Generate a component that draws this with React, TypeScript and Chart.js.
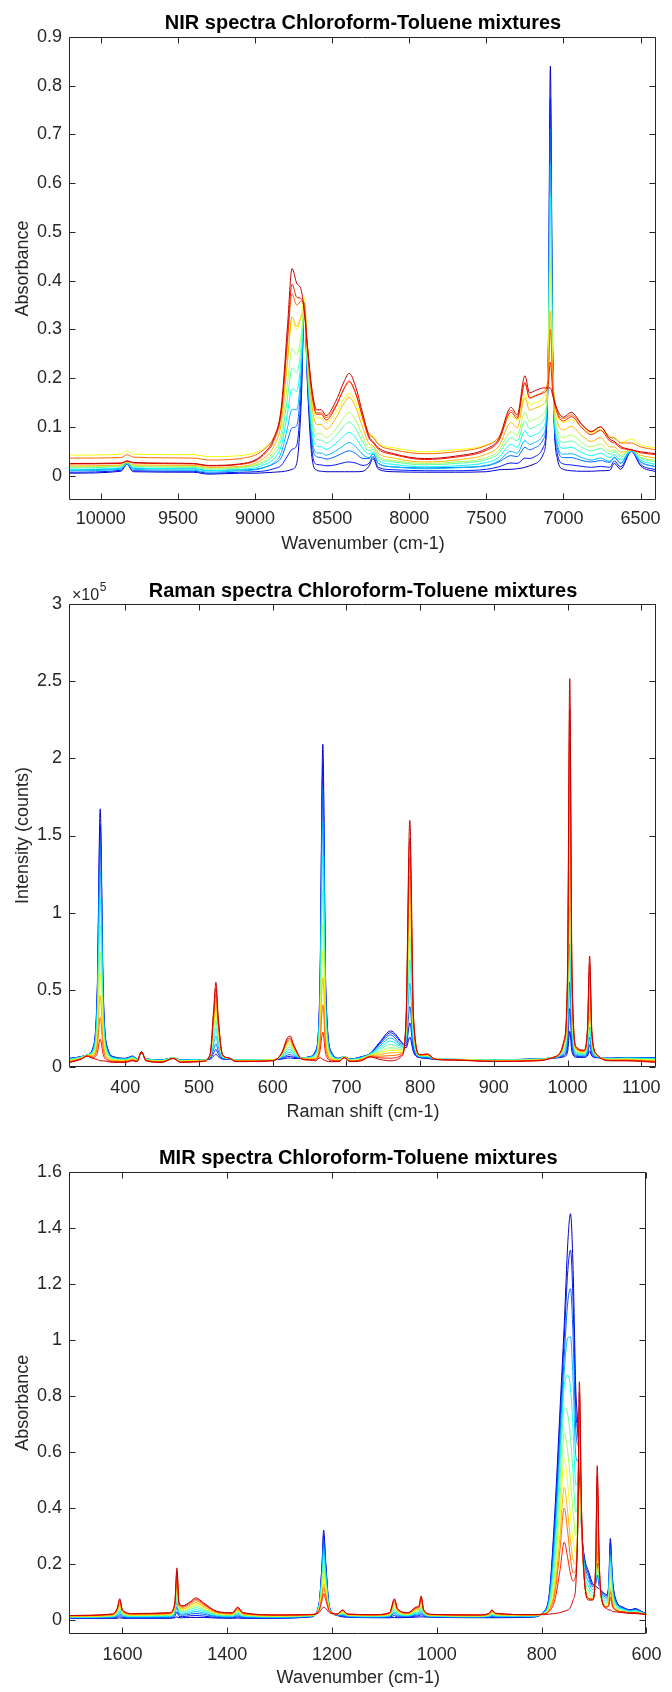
import React, { useEffect, useRef } from "react";
import { Chart, registerables } from "chart.js";

Chart.register(...registerables);

const FONT = '"Liberation Sans", Arial, Helvetica, sans-serif';
const AXIS_COLOR = "#262626";

// jet-like colours, from chloroform-rich (blue) to toluene-rich (red)
const SERIES_COLORS = [
  "rgb(0,0,199)", "rgb(0,24,255)", "rgb(0,103,255)", "rgb(0,183,255)",
  "rgb(8,255,247)", "rgb(88,255,167)", "rgb(167,255,88)", "rgb(247,255,8)",
  "rgb(255,183,0)", "rgb(255,103,0)", "rgb(255,24,0)", "rgb(199,0,0)",
];

// ---------------- NIR ----------------
const NIR_X = [10200, 9870, 9830, 9790, 9400, 9300, 9100, 9000, 8930, 8880, 8830, 8790, 8760, 8730, 8700, 8680, 8660, 8630, 8600, 8570, 8540, 8480, 8420, 8390, 8350, 8300, 8260, 8235, 8200, 8100, 7900, 7700, 7500, 7420, 7340, 7300, 7250, 7220, 7180, 7130, 7100, 7085, 7070, 7040, 7000, 6950, 6880, 6820, 6760, 6700, 6670, 6630, 6560, 6500, 6400];
const NIR_S0 = [.005,.009,.023,.008,.007,.003,.005,.005,.006,.007,.008,.010,.013,.025,.155,.355,.185,.035,.011,.009,.008,.008,.008,.008,.008,.009,.020,.035,.013,.008,.007,.007,.008,.012,.013,.014,.017,.020,.025,.045,.205,.840,.255,.035,.013,.010,.009,.009,.010,.011,.025,.013,.050,.020,.008];
const NIR_S1 = [.007,.011,.024,.010,.009,.005,.007,.008,.010,.014,.021,.040,.054,.062,.178,.353,.193,.049,.023,.022,.020,.022,.027,.028,.026,.021,.026,.039,.017,.012,.010,.010,.013,.018,.026,.025,.036,.035,.040,.059,.203,.774,.246,.045,.024,.022,.019,.017,.019,.017,.030,.018,.050,.023,.012];
const NIR_S2 = [.012,.015,.027,.015,.014,.010,.012,.013,.018,.024,.037,.072,.098,.102,.203,.354,.204,.066,.039,.037,.034,.039,.048,.051,.046,.035,.035,.045,.025,.018,.016,.017,.020,.028,.041,.039,.058,.053,.058,.075,.203,.711,.240,.058,.037,.037,.031,.028,.031,.027,.037,.025,.054,.029,.018];
const NIR_S3 = [.010,.013,.024,.013,.011,.007,.010,.012,.018,.026,.047,.098,.136,.135,.222,.348,.208,.076,.047,.046,.042,.050,.063,.068,.060,.043,.037,.045,.025,.018,.014,.016,.021,.030,.050,.046,.072,.064,.069,.085,.197,.641,.227,.064,.044,.045,.037,.032,.036,.029,.038,.026,.050,.028,.018];
const NIR_S4 = [.013,.016,.026,.016,.014,.010,.013,.016,.024,.034,.061,.128,.178,.173,.245,.347,.217,.091,.061,.059,.054,.065,.083,.089,.079,.055,.044,.049,.031,.023,.018,.020,.027,.037,.064,.058,.092,.080,.085,.099,.195,.576,.219,.075,.056,.058,.047,.041,.046,.037,.043,.032,.051,.032,.023];
const NIR_S5 = [.016,.019,.028,.019,.017,.013,.016,.020,.029,.042,.075,.159,.220,.211,.269,.346,.226,.106,.074,.073,.067,.080,.103,.110,.098,.068,.051,.054,.036,.028,.022,.025,.033,.045,.078,.071,.112,.096,.101,.114,.194,.511,.211,.086,.068,.071,.058,.051,.056,.044,.049,.038,.053,.036,.028];
const NIR_S6 = [.018,.020,.028,.020,.019,.015,.017,.022,.033,.049,.088,.188,.261,.248,.291,.344,.234,.120,.086,.086,.078,.094,.121,.130,.115,.080,.057,.057,.040,.031,.025,.028,.037,.051,.090,.082,.131,.111,.116,.127,.191,.445,.202,.096,.078,.083,.068,.059,.065,.050,.053,.042,.053,.038,.031];
const NIR_S7 = [.042,.044,.051,.044,.043,.039,.041,.047,.059,.077,.121,.234,.317,.300,.331,.365,.263,.154,.119,.118,.110,.128,.159,.169,.152,.111,.084,.082,.066,.057,.049,.053,.063,.078,.123,.113,.168,.145,.150,.160,.211,.415,.217,.126,.109,.115,.098,.088,.095,.078,.079,.068,.075,.063,.057];
const NIR_S8 = [.020,.022,.028,.022,.021,.017,.019,.025,.039,.059,.108,.234,.326,.306,.326,.340,.246,.141,.105,.105,.095,.116,.150,.161,.142,.097,.065,.061,.046,.036,.028,.032,.044,.060,.109,.098,.160,.134,.139,.147,.186,.338,.186,.111,.094,.101,.082,.070,.078,.059,.059,.048,.052,.042,.036];
const NIR_S9 = [.036,.037,.043,.038,.036,.032,.035,.042,.057,.078,.133,.272,.373,.350,.358,.352,.266,.167,.129,.129,.119,.142,.179,.192,.171,.121,.085,.079,.064,.053,.045,.049,.062,.079,.134,.121,.189,.160,.165,.173,.198,.300,.194,.133,.117,.125,.104,.091,.100,.079,.077,.067,.067,.059,.053];
const NIR_S10 = [.024,.025,.030,.026,.024,.020,.023,.030,.047,.070,.130,.282,.393,.366,.363,.337,.259,.164,.126,.126,.114,.139,.181,.194,.171,.116,.076,.068,.054,.043,.033,.038,.052,.071,.130,.117,.191,.159,.164,.170,.183,.233,.173,.128,.112,.121,.098,.084,.093,.071,.067,.057,.053,.047,.043];
const NIR_S11 = [.025,.026,.030,.027,.025,.021,.024,.032,.050,.075,.140,.305,.425,.395,.380,.335,.265,.175,.135,.135,.123,.150,.195,.210,.185,.125,.080,.070,.057,.045,.035,.040,.055,.075,.140,.125,.205,.170,.175,.180,.180,.180,.165,.135,.120,.130,.105,.090,.100,.075,.070,.060,.053,.049,.045];
const NIR_X_TICKS = [10000, 9500, 9000, 8500, 8000, 7500, 7000, 6500];
const NIR_X_LABELS = ["10000", "9500", "9000", "8500", "8000", "7500", "7000", "6500"];
const NIR_Y_TICKS = [0, 0.1, 0.2, 0.3, 0.4, 0.5, 0.6, 0.7, 0.8, 0.9];
const NIR_Y_LABELS = ["0", "0.1", "0.2", "0.3", "0.4", "0.5", "0.6", "0.7", "0.8", "0.9"];

// ---------------- Raman (values in units of 1e5 counts) ----------------
const RAMAN_X = [325,340,348,356,362,366,370,376,385,400,410,416,422,428,450,465,475,505,515,520,523,526,532,540,550,600,612,620,624,628,640,650,658,664,668,672,680,690,697,705,720,732,745,760,775,781,786,791,800,810,820,845,900,960,985,995,1000,1003,1006,1012,1022,1027,1030,1033,1040,1060,1080,1120];
const RAMAN_S0 = [.054,.065,.076,.121,.511,1.673,.511,.120,.064,.054,.069,.050,.087,.050,.045,.056,.045,.045,.049,.070,.081,.066,.049,.047,.045,.046,.049,.056,.057,.053,.056,.065,.101,.512,2.092,.511,.092,.055,.066,.050,.064,.085,.158,.232,.159,.122,.192,.094,.058,.054,.046,.046,.045,.050,.057,.064,.096,.229,.096,.061,.060,.070,.103,.068,.058,.055,.060,.059];
const RAMAN_S1 = [.054,.065,.076,.118,.483,1.569,.481,.115,.062,.054,.068,.050,.089,.051,.045,.057,.045,.046,.052,.091,.113,.084,.052,.049,.046,.046,.053,.066,.067,.061,.056,.064,.099,.484,1.962,.481,.089,.054,.066,.050,.064,.084,.152,.220,.155,.136,.284,.110,.060,.057,.048,.047,.046,.051,.059,.072,.132,.377,.132,.067,.064,.082,.143,.080,.060,.055,.059,.058];
const RAMAN_S2 = [.052,.064,.076,.113,.448,1.446,.446,.109,.060,.052,.066,.049,.090,.050,.044,.057,.044,.045,.054,.114,.148,.104,.054,.050,.045,.046,.056,.076,.078,.068,.056,.063,.094,.450,1.808,.446,.085,.053,.066,.049,.062,.083,.144,.206,.148,.152,.390,.128,.062,.059,.048,.047,.045,.050,.060,.080,.172,.550,.172,.072,.068,.096,.190,.092,.062,.054,.058,.056];
const RAMAN_S3 = [.050,.063,.076,.107,.399,1.271,.396,.101,.057,.050,.064,.048,.092,.050,.043,.058,.043,.045,.058,.148,.199,.133,.058,.052,.045,.046,.061,.091,.094,.079,.056,.062,.088,.402,1.589,.396,.080,.052,.066,.048,.060,.082,.133,.186,.139,.175,.542,.154,.065,.063,.049,.048,.045,.050,.062,.092,.230,.797,.230,.080,.074,.116,.257,.110,.065,.053,.057,.054];
const RAMAN_S4 = [.048,.062,.076,.100,.350,1.096,.346,.092,.054,.048,.061,.047,.094,.049,.042,.058,.042,.044,.062,.182,.250,.162,.062,.054,.044,.046,.066,.106,.110,.090,.056,.060,.082,.354,1.370,.346,.074,.050,.066,.047,.058,.080,.122,.166,.130,.198,.694,.180,.068,.067,.050,.048,.044,.049,.064,.104,.288,1.044,.288,.088,.080,.136,.324,.128,.068,.052,.055,.051];
const RAMAN_S5 = [.045,.060,.075,.093,.300,.920,.295,.083,.050,.045,.058,.045,.095,.048,.040,.058,.040,.043,.065,.215,.300,.190,.065,.055,.043,.045,.070,.120,.125,.100,.055,.058,.075,.305,1.150,.295,.068,.048,.065,.045,.055,.078,.110,.145,.120,.220,.845,.205,.070,.070,.050,.048,.043,.048,.065,.115,.345,1.290,.345,.095,.085,.155,.390,.145,.070,.050,.053,.048];
const RAMAN_S6 = [.042,.058,.074,.085,.250,.744,.244,.073,.046,.042,.054,.043,.096,.046,.038,.057,.038,.041,.068,.248,.350,.218,.068,.056,.041,.044,.074,.134,.140,.110,.054,.055,.068,.256,.930,.244,.061,.045,.064,.043,.052,.075,.098,.124,.110,.242,.996,.230,.072,.073,.050,.047,.041,.046,.066,.126,.402,1.536,.402,.102,.090,.174,.456,.162,.072,.048,.050,.044];
const RAMAN_S7 = [.039,.056,.073,.079,.210,.603,.203,.065,.042,.039,.051,.041,.096,.044,.036,.056,.036,.039,.070,.274,.390,.240,.070,.056,.039,.043,.077,.145,.152,.118,.053,.053,.062,.216,.754,.203,.055,.043,.063,.041,.049,.073,.088,.107,.102,.259,1.116,.250,.073,.075,.050,.046,.039,.044,.066,.134,.447,1.732,.447,.107,.094,.189,.508,.175,.073,.046,.048,.041];
const RAMAN_S8 = [.036,.054,.072,.072,.169,.462,.162,.057,.039,.036,.048,.039,.097,.043,.034,.055,.034,.038,.072,.300,.429,.262,.072,.057,.038,.042,.080,.156,.163,.125,.052,.050,.056,.177,.577,.162,.050,.040,.062,.039,.046,.070,.078,.090,.093,.276,1.237,.269,.074,.077,.049,.045,.038,.043,.067,.143,.492,1.929,.492,.112,.097,.204,.561,.188,.074,.044,.045,.038];
const RAMAN_S9 = [.034,.052,.070,.066,.129,.320,.120,.049,.035,.034,.044,.037,.097,.041,.032,.055,.032,.036,.074,.326,.469,.284,.074,.057,.036,.040,.082,.166,.175,.133,.050,.048,.050,.137,.401,.120,.044,.038,.060,.037,.044,.068,.068,.072,.085,.294,1.357,.289,.076,.079,.049,.045,.036,.041,.067,.151,.538,2.125,.538,.118,.101,.218,.613,.202,.076,.042,.043,.034];
const RAMAN_S10 = [.031,.050,.069,.059,.088,.179,.079,.041,.032,.031,.041,.035,.098,.040,.030,.054,.030,.035,.076,.352,.508,.306,.076,.058,.035,.039,.085,.177,.186,.140,.049,.045,.044,.098,.224,.079,.039,.035,.059,.035,.041,.065,.058,.055,.076,.311,1.478,.308,.077,.081,.048,.044,.035,.040,.068,.160,.583,2.322,.583,.123,.104,.233,.666,.215,.077,.040,.040,.031];
const RAMAN_S11 = [.028,.048,.068,.053,.048,.038,.038,.033,.028,.028,.038,.033,.098,.038,.028,.053,.028,.033,.078,.378,.548,.328,.078,.058,.033,.038,.088,.188,.198,.148,.048,.043,.038,.058,.048,.038,.033,.033,.058,.033,.038,.063,.048,.038,.068,.328,1.598,.328,.078,.083,.048,.043,.033,.038,.068,.168,.628,2.518,.628,.128,.108,.248,.718,.228,.078,.038,.038,.028];
const RAMAN_X_TICKS = [400, 500, 600, 700, 800, 900, 1000, 1100];
const RAMAN_X_LABELS = ["400", "500", "600", "700", "800", "900", "1000", "1100"];
const RAMAN_Y_TICKS = [0, 0.5, 1, 1.5, 2, 2.5, 3];
const RAMAN_Y_LABELS = ["0", "0.5", "1", "1.5", "2", "2.5", "3"];

// ---------------- MIR ----------------
const MIR_X = [1700,1620,1610,1605,1600,1580,1510,1500,1496,1492,1485,1470,1460,1445,1420,1390,1380,1370,1300,1240,1225,1219,1216,1212,1205,1190,1180,1170,1120,1090,1081,1075,1055,1040,1034,1030,1025,1010,920,900,895,888,820,795,785,775,765,757,750,745,740,735,731,728,724,718,710,703,697,694,690,684,676,672,669,665,658,645,630,622,610,600];
const MIR_S0 = [.005,.005,.005,.007,.005,.005,.005,.007,.010,.007,.007,.008,.008,.008,.006,.005,.006,.005,.005,.010,.055,.205,.320,.205,.045,.015,.010,.009,.007,.007,.008,.007,.008,.009,.010,.010,.010,.009,.007,.007,.007,.007,.009,.030,.100,.380,.750,1.050,1.350,1.450,1.250,.830,.700,.550,.330,.220,.170,.130,.120,.115,.110,.100,.090,.130,.290,.150,.070,.045,.035,.040,.030,.020];
const MIR_S1 = [.006,.007,.009,.014,.008,.007,.007,.012,.028,.012,.011,.014,.015,.013,.008,.007,.010,.007,.006,.011,.054,.195,.302,.195,.044,.016,.013,.010,.008,.009,.015,.010,.010,.013,.014,.018,.013,.010,.008,.009,.010,.009,.010,.030,.094,.352,.709,1.003,1.250,1.320,1.132,.760,.664,.580,.338,.212,.160,.124,.129,.159,.119,.096,.086,.123,.273,.141,.067,.043,.035,.038,.030,.020];
const MIR_S2 = [.007,.008,.012,.021,.011,.008,.009,.018,.045,.018,.016,.020,.022,.019,.011,.009,.014,.009,.007,.012,.052,.182,.281,.182,.043,.017,.015,.011,.009,.011,.022,.014,.012,.016,.018,.025,.015,.011,.009,.010,.013,.010,.011,.028,.087,.321,.660,.941,1.138,1.182,1.009,.685,.624,.606,.344,.202,.149,.118,.136,.202,.128,.092,.081,.115,.254,.131,.063,.042,.033,.037,.028,.020];
const MIR_S3 = [.008,.010,.016,.028,.014,.010,.011,.023,.063,.023,.020,.025,.029,.024,.013,.011,.018,.011,.009,.013,.049,.168,.256,.168,.041,.017,.018,.013,.010,.013,.028,.017,.013,.020,.022,.033,.018,.012,.010,.012,.016,.012,.012,.027,.078,.284,.608,.884,1.007,1.010,.850,.587,.565,.617,.341,.187,.134,.108,.140,.242,.133,.085,.074,.105,.231,.119,.058,.039,.031,.034,.027,.020];
const MIR_S4 = [.009,.011,.019,.034,.017,.012,.013,.028,.080,.028,.024,.031,.036,.029,.016,.013,.022,.013,.010,.014,.047,.153,.232,.153,.040,.018,.020,.014,.012,.014,.035,.020,.015,.024,.026,.040,.020,.013,.011,.014,.018,.014,.013,.026,.069,.246,.560,.834,.873,.826,.679,.481,.497,.622,.335,.170,.117,.097,.144,.281,.138,.078,.067,.095,.209,.106,.052,.037,.030,.032,.026,.019];
const MIR_S5 = [.010,.013,.023,.041,.020,.014,.015,.034,.098,.034,.029,.037,.043,.034,.018,.015,.026,.015,.011,.014,.044,.137,.205,.137,.038,.018,.023,.015,.013,.016,.042,.024,.017,.027,.030,.048,.023,.014,.012,.015,.021,.015,.014,.024,.060,.206,.498,.757,.731,.651,.521,.383,.438,.634,.332,.154,.102,.087,.148,.320,.144,.071,.060,.084,.184,.093,.046,.034,.028,.030,.024,.019];
const MIR_S6 = [.011,.014,.026,.048,.023,.015,.017,.039,.115,.039,.033,.042,.050,.039,.021,.017,.030,.017,.012,.015,.041,.120,.177,.120,.036,.019,.025,.016,.014,.018,.048,.027,.018,.031,.034,.055,.025,.015,.013,.017,.024,.017,.015,.023,.051,.169,.430,.666,.596,.496,.386,.301,.394,.657,.335,.143,.090,.080,.155,.362,.152,.066,.054,.074,.159,.081,.042,.031,.026,.028,.023,.018];
const MIR_S7 = [.012,.015,.029,.054,.026,.017,.019,.043,.130,.043,.037,.047,.056,.044,.023,.019,.033,.019,.013,.016,.038,.105,.152,.105,.034,.019,.028,.017,.015,.020,.054,.030,.020,.034,.038,.061,.027,.016,.014,.018,.026,.018,.016,.022,.044,.137,.364,.573,.477,.370,.281,.237,.360,.676,.338,.134,.080,.074,.160,.396,.158,.062,.049,.065,.135,.070,.038,.029,.025,.026,.022,.018];
const MIR_S8 = [.012,.016,.031,.058,.027,.017,.020,.047,.143,.047,.039,.051,.061,.047,.024,.020,.035,.020,.014,.016,.035,.091,.129,.091,.032,.019,.029,.017,.015,.020,.058,.032,.021,.036,.040,.067,.029,.016,.014,.019,.028,.019,.016,.021,.038,.110,.299,.473,.378,.281,.213,.198,.347,.712,.350,.130,.075,.071,.168,.433,.167,.060,.046,.058,.114,.060,.035,.028,.024,.024,.021,.018];
const MIR_S9 = [.014,.018,.035,.065,.031,.020,.022,.052,.158,.052,.044,.057,.068,.053,.027,.022,.039,.022,.016,.018,.034,.083,.115,.083,.032,.021,.032,.019,.017,.023,.065,.036,.023,.040,.045,.074,.032,.018,.016,.021,.031,.021,.018,.021,.035,.092,.250,.399,.307,.219,.168,.174,.348,.759,.369,.132,.075,.072,.180,.473,.179,.061,.046,.055,.100,.055,.035,.028,.025,.025,.022,.019];
const MIR_S10 = [.015,.020,.038,.071,.033,.021,.024,.057,.172,.057,.048,.062,.074,.057,.029,.024,.043,.024,.017,.019,.032,.070,.093,.070,.031,.021,.034,.020,.018,.025,.071,.038,.025,.043,.048,.080,.034,.019,.017,.023,.034,.023,.018,.021,.031,.069,.176,.277,.217,.163,.138,.160,.358,.812,.390,.135,.075,.074,.192,.514,.192,.063,.045,.049,.080,.048,.033,.028,.025,.025,.022,.019];
const MIR_S11 = [.015,.020,.040,.075,.035,.022,.025,.060,.185,.060,.050,.065,.078,.060,.030,.025,.045,.025,.017,.018,.025,.040,.045,.040,.025,.020,.035,.020,.018,.025,.075,.040,.025,.045,.050,.085,.035,.019,.017,.023,.035,.023,.018,.018,.020,.022,.025,.030,.035,.045,.070,.120,.350,.850,.400,.130,.070,.070,.200,.550,.200,.060,.040,.035,.035,.030,.028,.025,.022,.022,.020,.018];
const MIR_X_TICKS = [1600, 1400, 1200, 1000, 800, 600];
const MIR_X_LABELS = ["1600", "1400", "1200", "1000", "800", "600"];
const MIR_Y_TICKS = [0, 0.2, 0.4, 0.6, 0.8, 1, 1.2, 1.4, 1.6];
const MIR_Y_LABELS = ["0", "0.2", "0.4", "0.6", "0.8", "1", "1.2", "1.4", "1.6"];

type PanelSpec = {
  key: string;
  title: string;
  xTitle: string;
  yTitle: string;
  x: number[];
  series: number[][];
  xTicks: number[];
  xLabels: string[];
  yTicks: number[];
  yLabels: string[];
  xMin: number;
  xMax: number;
  yMin: number;
  yMax: number;
  reverse: boolean;
  top: number;
  height: number;
  titlePadTop: number;
  titlePadBottom: number;
  xAxisHeight: number;
  xTickPad: number;
  xTitlePadBottom: number;
  exponent?: string;
};

const PANELS: PanelSpec[] = [
  {
    key: "nir", title: "NIR spectra Chloroform-Toluene mixtures", xTitle: "Wavenumber (cm-1)", yTitle: "Absorbance",
    x: NIR_X, series: [NIR_S0, NIR_S1, NIR_S2, NIR_S3, NIR_S4, NIR_S5, NIR_S6, NIR_S7, NIR_S8, NIR_S9, NIR_S10, NIR_S11],
    xTicks: NIR_X_TICKS, xLabels: NIR_X_LABELS, yTicks: NIR_Y_TICKS, yLabels: NIR_Y_LABELS,
    xMin: 6400, xMax: 10200, yMin: -0.05, yMax: 0.9, reverse: true,
    top: 0, height: 560, titlePadTop: 11, titlePadBottom: 2, xAxisHeight: 60, xTickPad: 8.5, xTitlePadBottom: 5.2,
  },
  {
    key: "raman", title: "Raman spectra Chloroform-Toluene mixtures", xTitle: "Raman shift (cm-1)", yTitle: "Intensity (counts)",
    x: RAMAN_X, series: [RAMAN_S0, RAMAN_S1, RAMAN_S2, RAMAN_S3, RAMAN_S4, RAMAN_S5, RAMAN_S6, RAMAN_S7, RAMAN_S8, RAMAN_S9, RAMAN_S10, RAMAN_S11],
    xTicks: RAMAN_X_TICKS, xLabels: RAMAN_X_LABELS, yTicks: RAMAN_Y_TICKS, yLabels: RAMAN_Y_LABELS,
    xMin: 325, xMax: 1120, yMin: 0, yMax: 3, reverse: false,
    top: 560, height: 570, titlePadTop: 19, titlePadBottom: 1.3, xAxisHeight: 63.3, xTickPad: 10.5, xTitlePadBottom: 7.2,
    exponent: "5",
  },
  {
    key: "mir", title: "MIR spectra Chloroform-Toluene mixtures", xTitle: "Wavenumber (cm-1)", yTitle: "Absorbance",
    x: MIR_X, series: [MIR_S0, MIR_S1, MIR_S2, MIR_S3, MIR_S4, MIR_S5, MIR_S6, MIR_S7, MIR_S8, MIR_S9, MIR_S10, MIR_S11],
    xTicks: MIR_X_TICKS, xLabels: MIR_X_LABELS, yTicks: MIR_Y_TICKS, yLabels: MIR_Y_LABELS,
    xMin: 600, xMax: 1700, yMin: -0.05, yMax: 1.6, reverse: true,
    top: 1130, height: 562, titlePadTop: 16.7, titlePadBottom: 1, xAxisHeight: 58.3, xTickPad: 10.5, xTitlePadBottom: 3.2,
  },
];

const boxPlugin = {
  id: "matlabBox",
  afterDatasetsDraw(chart: any, _args: any, opts: any) {
    const { ctx, chartArea: a, scales } = chart;
    const L = Math.round(a.left) - 0.5;
    const R = Math.round(a.right) - 0.5;
    const T = Math.round(a.top) + 0.5;
    const B = Math.round(a.bottom) - 0.5;
    ctx.save();
    ctx.strokeStyle = AXIS_COLOR;
    ctx.lineWidth = 1;
    ctx.beginPath();
    ctx.rect(L, T, R - L, B - T);
    for (const v of opts.xTicks || []) {
      const px = Math.round(scales.x.getPixelForValue(v)) + 0.5;
      ctx.moveTo(px, B); ctx.lineTo(px, B - 6);
      ctx.moveTo(px, T); ctx.lineTo(px, T + 6);
    }
    for (const v of opts.yTicks || []) {
      const py = Math.round(scales.y.getPixelForValue(v)) + 0.5;
      ctx.moveTo(L, py); ctx.lineTo(L + 6, py);
      ctx.moveTo(R, py); ctx.lineTo(R - 6, py);
    }
    ctx.stroke();
    if (opts.exponent) {
      ctx.fillStyle = AXIS_COLOR;
      ctx.textBaseline = "alphabetic";
      ctx.textAlign = "left";
      ctx.font = `16px ${FONT}`;
      const base = "\u00d710";
      ctx.fillText(base, a.left + 2, a.top - 4);
      const w = ctx.measureText(base).width;
      ctx.font = `12px ${FONT}`;
      ctx.fillText(opts.exponent, a.left + 2 + w + 0.5, a.top - 13);
    }
    ctx.restore();
  },
};

function buildConfig(p: PanelSpec): any {
  const n = p.series.length;
  const datasets = p.series.map((ys, i) => ({
    label: `${p.key}-${i + 1}`,
    data: p.x.map((x, k) => ({ x, y: ys[k] })),
    borderColor: SERIES_COLORS[i],
    backgroundColor: SERIES_COLORS[i],
    borderWidth: 1,
    pointRadius: 0,
    fill: false,
    cubicInterpolationMode: "monotone",
    order: n - 1 - i,
  }));
  const tickFont = { family: FONT, size: 18 };
  return {
    type: "line",
    data: { datasets },
    options: {
      animation: false,
      responsive: false,
      devicePixelRatio: 1,
      layout: { padding: { left: 0, right: 16, top: 0, bottom: 0 } },
      plugins: {
        legend: { display: false },
        tooltip: { enabled: false },
        title: {
          display: true,
          text: p.title,
          fullSize: false,
          color: "#000000",
          font: { family: FONT, size: 20, weight: "bold" },
          padding: { top: p.titlePadTop, bottom: p.titlePadBottom },
        },
        matlabBox: { xTicks: p.xTicks, yTicks: p.yTicks, exponent: p.exponent },
      },
      scales: {
        x: {
          type: "linear",
          min: p.xMin,
          max: p.xMax,
          reverse: p.reverse,
          afterBuildTicks: (s: any) => { s.ticks = p.xTicks.map((v) => ({ value: v })); },
          afterFit: (s: any) => { s.height = p.xAxisHeight; },
          grid: { display: false, drawTicks: false },
          border: { display: false },
          ticks: {
            autoSkip: false,
            maxRotation: 0,
            minRotation: 0,
            padding: p.xTickPad,
            color: AXIS_COLOR,
            font: tickFont,
            callback: (v: number) => { const i = p.xTicks.indexOf(v); return i >= 0 ? p.xLabels[i] : ""; },
          },
          title: {
            display: true,
            text: p.xTitle,
            color: AXIS_COLOR,
            font: tickFont,
            padding: { top: 0, bottom: p.xTitlePadBottom },
          },
        },
        y: {
          type: "linear",
          min: p.yMin,
          max: p.yMax,
          afterBuildTicks: (s: any) => { s.ticks = p.yTicks.map((v) => ({ value: v })); },
          afterFit: (s: any) => { s.width = 70; },
          grid: { display: false, drawTicks: false },
          border: { display: false },
          ticks: {
            autoSkip: false,
            padding: 8,
            color: AXIS_COLOR,
            font: tickFont,
            callback: (v: number) => { const i = p.yTicks.indexOf(v); return i >= 0 ? p.yLabels[i] : ""; },
          },
          title: {
            display: true,
            text: p.yTitle,
            color: AXIS_COLOR,
            font: tickFont,
            padding: { top: 12, bottom: 0 },
          },
        },
      },
    },
    plugins: [boxPlugin],
  };
}

function Panel({ spec }: { spec: PanelSpec }) {
  const ref = useRef<HTMLCanvasElement>(null);
  useEffect(() => {
    if (!ref.current) return;
    const chart = new Chart(ref.current, buildConfig(spec));
    return () => chart.destroy();
  }, [spec]);
  return (
    <canvas
      ref={ref}
      width={672}
      height={spec.height}
      style={{ position: "absolute", left: 0, top: spec.top, width: 672, height: spec.height }}
    />
  );
}

export default function App() {
  return (
    <div style={{ position: "absolute", left: 0, top: 0, width: 672, height: 1692, background: "#ffffff", overflow: "hidden" }}>
      {PANELS.map((p) => (
        <Panel key={p.key} spec={p} />
      ))}
    </div>
  );
}
